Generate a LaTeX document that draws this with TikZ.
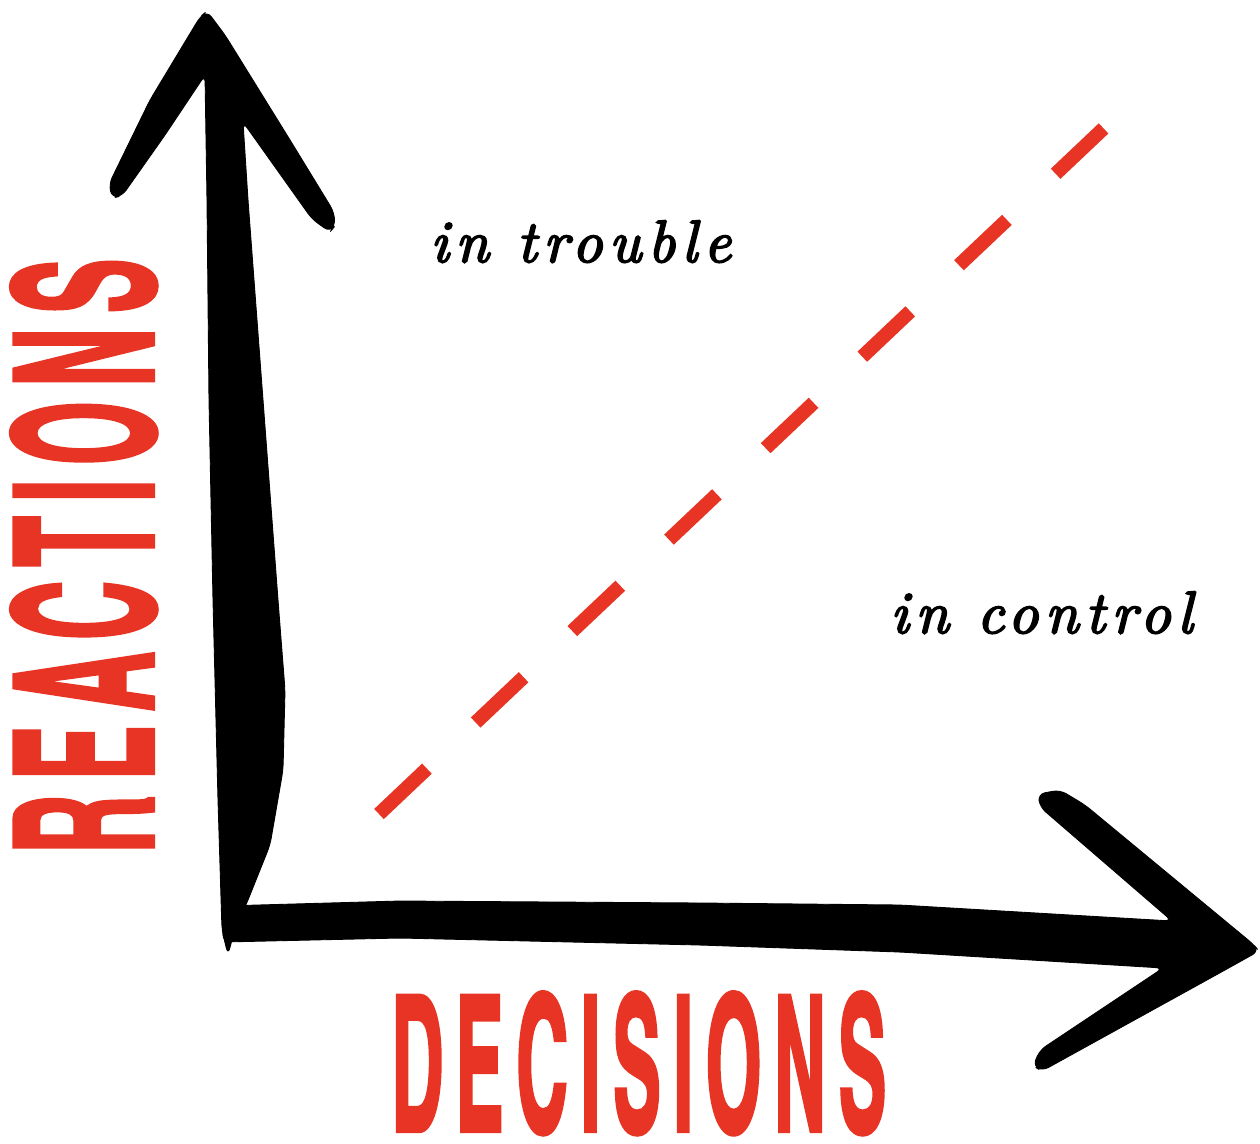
\documentclass[tikz,border=0pt]{standalone}
\usepackage{fontspec}
\usepackage{graphicx}
\newfontfamily\capsfont{texgyreheroscn-bold.otf}[FakeBold=2.2, LetterSpace=14]
\newfontfamily\zonefont{lmroman10-italic.otf}[LetterSpace=11, FakeBold=3]
\definecolor{signred}{RGB}{232,52,36}

\begin{document}
\begin{tikzpicture}[
  x=0.02cm, y=-0.02cm,
  brush/.style={fill=black, draw=black, line width=0.5pt, rounded corners=4pt, line join=round},
  divide/.style={draw=signred, line width=0.28cm, dash pattern=on 1.32cm off 1.342cm},
  zone/.style={anchor=base west, inner sep=0pt, font=\zonefont\fontsize{34}{40}\selectfont},
  axisname/.style={inner sep=0pt, text=signred, font=\capsfont}
]
\useasboundingbox (0,0) rectangle (1260,1143);

% brush axes
\draw[brush] (207,11) -- (225,35) -- (290,140) -- (334,212) -- (335,226) -- (330,232)
  -- (312,219) -- (243,122) -- (248,200) -- (263,400) -- (278,600) -- (285,690)
  -- (283,770) -- (270,845) -- (248,900) -- (234,932) -- (228,955) -- (222,930)
  -- (218,800) -- (213,600) -- (209,400) -- (207,200) -- (205,75) -- (165,135)
  -- (122,196) -- (112,198) -- (109,184) -- (150,100) -- (200,17) -- cycle;
\draw[brush] (223,906) -- (400,901) -- (700,903) -- (900,905) -- (1172,921)
  -- (1040,807) -- (1038,794) -- (1060,790) -- (1085,805) -- (1253,944)
  -- (1259,951) -- (1225,970) -- (1042,1071) -- (1033,1066) -- (1040,1050)
  -- (1163,968) -- (900,952) -- (700,945) -- (400,938) -- (223,942) -- cycle;

% dividing line
\coordinate (low) at (379,814);
\coordinate (high) at (1104,128);
\draw[divide] (low) -- (high);

\node[zone] (trouble) at (430,262) {in trouble};
\node[zone] (control) at (890,633) {in control};

\node[axisname, anchor=south west] (decisions) at (391,1135) {\resizebox{9.9cm}{2.78cm}{DECISIONS}};
\node[axisname, rotate=90, anchor=south west] (reactions) at (157,854) {\resizebox{11.9cm}{2.84cm}{REACTIONS}};
\end{tikzpicture}
\end{document}
